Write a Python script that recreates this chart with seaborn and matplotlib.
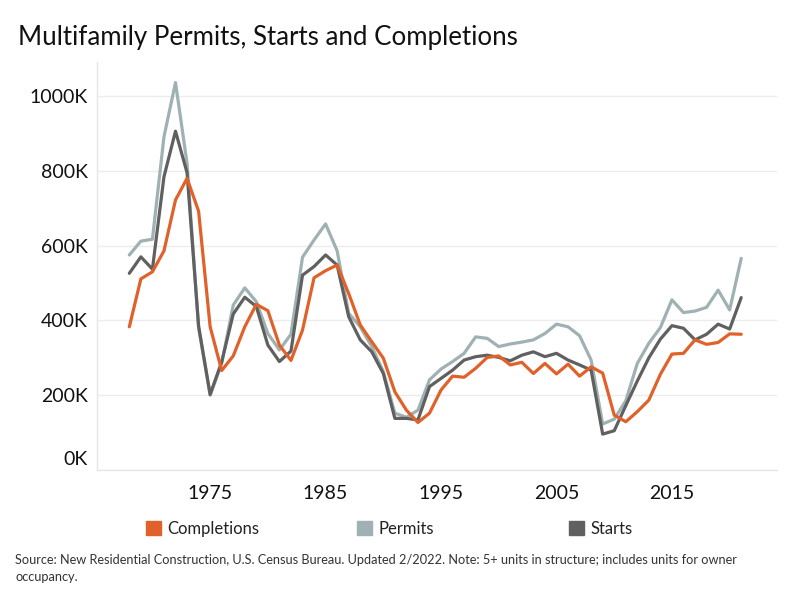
import matplotlib
matplotlib.use("Agg")
import matplotlib.pyplot as plt
import matplotlib.transforms as mtransforms
from matplotlib.patches import Patch
import pandas as pd
import seaborn as sns

# values in thousands of units, 1968-2021
years = list(range(1968, 2022))
completions = [383, 511, 530, 586, 722, 780, 692, 383, 266, 305,
               383, 443, 426, 334, 293, 374, 514, 533, 548, 472,
               388, 343, 299, 209, 160, 127, 152, 214, 251, 248,
               272, 301, 305, 281, 288, 258, 285, 257, 283, 251,
               276, 259, 147, 129, 156, 187, 256, 310, 312, 348,
               336, 341, 364, 363]
permits = [575, 612, 617, 891, 1036, 820, 380, 200, 285, 441,
           487, 450, 365, 321, 363, 569, 615, 658, 586, 419,
           383, 330, 263, 152, 141, 160, 241, 270, 290, 312,
           356, 352, 330, 337, 342, 348, 365, 390, 383, 359,
           294, 123, 136, 185, 285, 339, 381, 455, 421, 425,
           435, 481, 428, 566]
starts = [526, 570, 537, 784, 906, 795, 385, 202, 289, 417,
          462, 437, 334, 290, 318, 521, 544, 575, 548, 410,
          348, 316, 258, 138, 138, 134, 223, 245, 267, 294,
          303, 307, 301, 292, 307, 316, 303, 312, 294, 281,
          267, 96, 105, 172, 238, 300, 350, 386, 379, 348,
          363, 390, 377, 461]

series_names = ["Completions", "Permits", "Starts"]
series_colors = {"Completions": "#e0622a", "Permits": "#9fb1b3", "Starts": "#606060"}
x_ticks = [1975, 1985, 1995, 2005, 2015]
y_ticks = [0, 200000, 400000, 600000, 800000, 1000000]

df = pd.DataFrame({
    "Year": years * 3,
    "Units": [v * 1000 for v in completions + permits + starts],
    "Series": [s for s in series_names for _ in years],
})

sns.set_style("white")
plt.rcParams["font.family"] = ["Lato", "DejaVu Sans"]

fig = plt.figure(figsize=(7.87, 5.99), dpi=100)
ax = fig.add_axes([97 / 787, 1 - 470 / 599, 680 / 787, 408 / 599])

sns.lineplot(data=df, x="Year", y="Units", hue="Series",
             hue_order=["Permits", "Starts", "Completions"],
             palette=series_colors, linewidth=2.3, legend=False, ax=ax)

ax.set_xlim(1965.2, 2024.1)
ax.set_ylim(0, 1091000)
ax.set_xticks(x_ticks)
ax.set_yticks(y_ticks)
ax.set_yticklabels([f"{t // 1000}K" for t in y_ticks])
ax.set_xlabel("")
ax.set_ylabel("")
ax.grid(axis="y", color="#ececec", linewidth=1)
ax.set_axisbelow(True)
for side in ["top", "right"]:
    ax.spines[side].set_visible(False)
for side in ["left", "bottom"]:
    ax.spines[side].set_color("#e6e6e6")
    ax.spines[side].set_linewidth(1)
ax.tick_params(axis="x", length=2.5, color="#e0e0e0", labelsize=14, pad=8, labelcolor="#111111")
ax.tick_params(axis="y", length=4, color="#ececec", labelsize=14, pad=2.5, labelcolor="#111111")

# Tableau nudges the bottom label up
zero_label = ax.yaxis.get_major_ticks()[0].label1
zero_label.set_transform(zero_label.get_transform()
                         + mtransforms.ScaledTranslation(0, 12 / 100, fig.dpi_scale_trans))

fig.text(18 / 787, 1 - 37 / 599, "Multifamily Permits, Starts and Completions",
         fontsize=18.6, color="#111111", va="center", ha="left")

for name, x0 in zip(series_names, [146, 357, 569]):
    fig.legend(handles=[Patch(color=series_colors[name])], labels=[name],
               loc="center left", bbox_to_anchor=(x0 / 787, 1 - 529 / 599),
               frameon=False, fontsize=12, handlelength=0.9, handleheight=0.9,
               handletextpad=0.4, borderpad=0, borderaxespad=0, labelcolor="#222222")

fig.text(15 / 787, 1 - 560 / 599,
         "Source: New Residential Construction, U.S. Census Bureau. Updated 2/2022. "
         "Note: 5+ units in structure; includes units for owner",
         fontsize=9.2, color="#333333", va="center", ha="left")
fig.text(15 / 787, 1 - 577 / 599, "occupancy.",
         fontsize=9.2, color="#333333", va="center", ha="left")

fig.savefig("out.png", dpi=100)
